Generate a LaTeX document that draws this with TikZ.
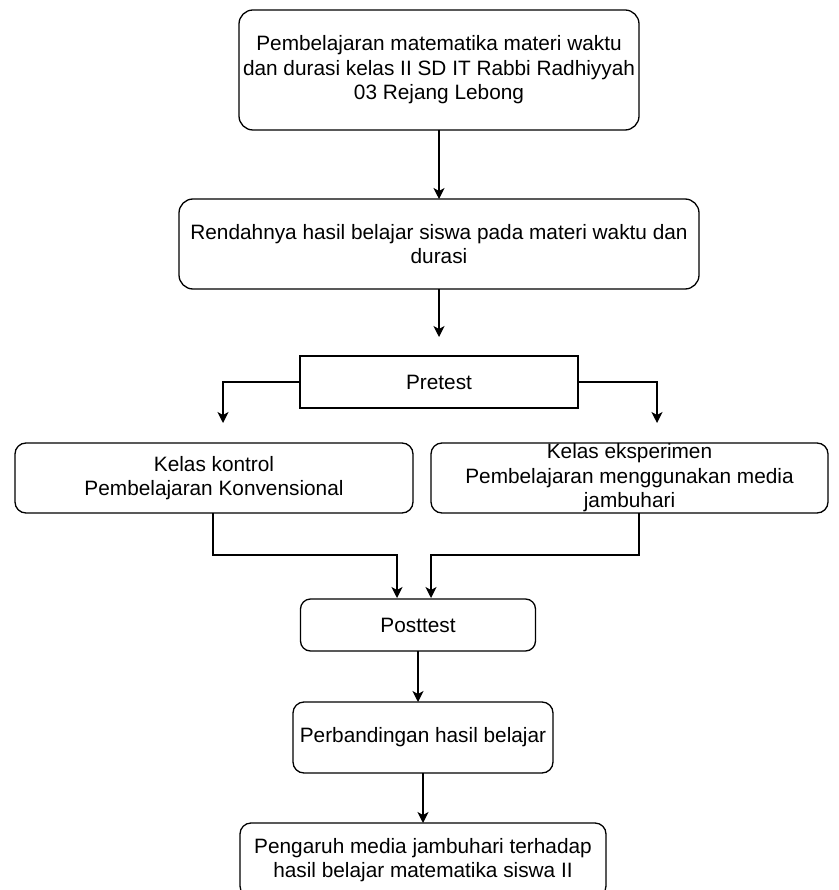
\documentclass[tikz,border=0pt]{standalone}
\usepackage{amsmath,amssymb}
\usepackage{tikz}
\usetikzlibrary{arrows.meta,positioning,calc}
\usepackage{fontspec}
\setmainfont{Liberation Sans}

\begin{document}
\begin{tikzpicture}[x=1pt, y=-1pt, line width=1.3pt,
  >={Stealth[length=11pt,width=11pt,inset=3pt]},
  box/.style={draw, rounded corners=14pt, align=center, inner sep=0pt, outer sep=0pt,
    font=\fontsize{20.8}{24.5}\selectfont},
  sqbox/.style={box, sharp corners}]
  \useasboundingbox (0,0) rectangle (838,890);

  % awal
  \node[box, minimum width=400pt, minimum height=120pt] (awal) at (439,70)
    {Pembelajaran matematika materi waktu\\dan durasi kelas II SD IT Rabbi Radhiyyah\\03 Rejang Lebong};
  % masalah
  \node[box, minimum width=520pt, minimum height=90pt] (ren) at (439,244)
    {Rendahnya hasil belajar siswa pada materi waktu dan\\durasi};
  % pretest
  \node[sqbox, minimum width=278pt, minimum height=52pt] (pre) at (439,382) {Pretest};
  % kelas
  \node[box, rounded corners=11pt, minimum width=398pt, minimum height=70pt] (kon) at (214,478)
    {Kelas kontrol\\Pembelajaran Konvensional};
  \node[box, rounded corners=11pt, minimum width=397pt, minimum height=70pt] (eks) at (629.5,478)
    {Kelas eksperimen\\Pembelajaran menggunakan media\\jambuhari};
  % posttest
  \node[box, rounded corners=10pt, minimum width=235pt, minimum height=52pt] (post) at (418,625) {Posttest};
  \node[box, rounded corners=11pt, minimum width=260pt, minimum height=71pt] (band) at (423,737.5)
    {Perbandingan hasil belajar};
  \node[box, rounded corners=11pt, minimum width=366pt, minimum height=74pt] (pen) at (423,860)
    {Pengaruh media jambuhari terhadap\\hasil belajar matematika siswa II};

  \coordinate (kin) at (223,423);
  \coordinate (ein) at (657,423);
  \coordinate (pin1) at (397,598);
  \coordinate (pin2) at (431,598);

  \draw[->] (awal) -- (ren);
  \draw[->, shorten >=19pt] (ren) -- (pre);
  \draw[->] (pre.west) -| (kin);
  \draw[->] (pre.east) -| (ein);
  \draw[->] ([xshift=-1pt]kon.south) -- ++(0,42) -| (pin1);
  \draw[->] ([xshift=9.5pt]eks.south) -- ++(0,42) -| (pin2);
  \draw[->] (post.south) -- (post.south |- band.north);
  \draw[->] (band) -- (pen);
\end{tikzpicture}
\end{document}
